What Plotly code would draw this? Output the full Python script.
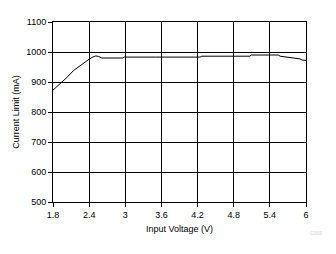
import plotly.graph_objects as go

voltage = [1.8, 1.94, 2.03, 2.14, 2.33, 2.4, 2.45, 2.51, 2.56, 2.61, 2.96, 2.98, 3.5, 4.24, 4.27, 4.8, 5.07, 5.09, 5.54, 5.57, 5.8, 5.9, 5.94, 6.0]
current = [873, 897, 915, 938, 968, 976, 982, 987, 985, 980, 980, 983, 983, 983, 986, 986, 986, 990, 990, 986, 981, 977, 973, 972]

x_ticks = [1.8, 2.4, 3.0, 3.6, 4.2, 4.8, 5.4, 6.0]
x_labels = ["1.8", "2.4", "3", "3.6", "4.2", "4.8", "5.4", "6"]
y_ticks = [500, 600, 700, 800, 900, 1000, 1100]

font = dict(family="Liberation Sans, Arial, sans-serif", size=9, color="black")

fig = go.Figure()
fig.add_trace(go.Scatter(x=voltage, y=current, mode="lines",
                         line=dict(color="black", width=1), showlegend=False))

fig.update_layout(
    width=336, height=254,
    margin=dict(l=53, r=30, t=22, b=52),
    paper_bgcolor="white", plot_bgcolor="white",
    font=font,
    xaxis=dict(range=[1.8, 6.0], tickvals=x_ticks, ticktext=x_labels,
               showgrid=True, gridcolor="black", gridwidth=1,
               showline=True, linecolor="black", linewidth=1, mirror=True,
               ticks="outside", ticklen=4, tickcolor="black",
               zeroline=False,
               title=dict(text="Input Voltage (V)", font=font, standoff=6)),
    yaxis=dict(range=[500, 1100], tickvals=y_ticks,
               showgrid=True, gridcolor="black", gridwidth=1,
               showline=True, linecolor="black", linewidth=1, mirror=True,
               ticks="outside", ticklen=4, tickcolor="black",
               zeroline=False,
               title=dict(text="Current Limit (mA)", font=font, standoff=5)),
)
fig.add_annotation(text="C003", xref="paper", yref="paper", x=1.04, y=-0.17,
                   showarrow=False, xanchor="center", yanchor="middle",
                   font=dict(family="Liberation Sans, Arial, sans-serif", size=5, color="#d0d0d0"))

fig.write_html("out.html")
